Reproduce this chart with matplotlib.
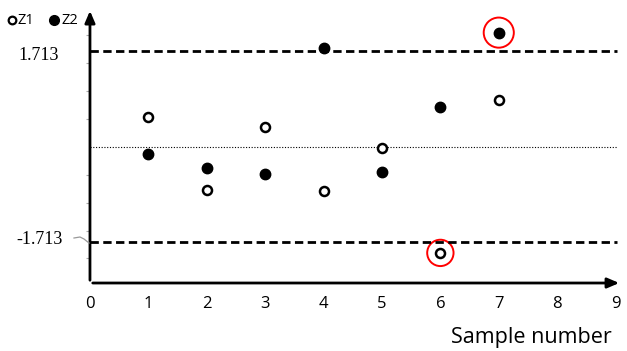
import matplotlib.pyplot as plt

samples = [1, 2, 3, 4, 5, 6, 7]
z1 = [0.54, -0.77, 0.36, -0.79, -0.02, -1.90, 0.84]
z2 = [-0.13, -0.38, -0.48, 1.78, -0.45, 0.72, 2.05]
limit = 1.713
x_ticks = [0, 1, 2, 3, 4, 5, 6, 7, 8, 9]
y_minor = [-2.0, -1.5, -1.0, -0.5, 0.5, 1.0, 1.5, 2.0]
flagged_z1 = [(6, -1.90)]
flagged_z2 = [(7, 2.05)]

fig = plt.figure(figsize=(6.27, 3.51), dpi=100)
ax = fig.add_axes([0.1435, 0.1937, 0.8485, 0.7833])
ax.set_xlim(0, 9.11)
ax.set_ylim(-2.44, 2.49)

for s in ax.spines.values():
    s.set_visible(False)

# axes with arrows
ax.annotate('', xy=(1.0, 0), xytext=(0, 0), xycoords='axes fraction',
            arrowprops=dict(arrowstyle='-|>,head_width=0.3,head_length=0.7', lw=2, color='black'))
ax.annotate('', xy=(0, 1.0), xytext=(0, 0), xycoords='axes fraction',
            arrowprops=dict(arrowstyle='-|>,head_width=0.3,head_length=0.7', lw=2, color='black'))

ax.plot([0, 9.02], [limit, limit], color='black', lw=2, linestyle=(0, (3, 1.6)))
ax.plot([0, 9.02], [-limit, -limit], color='black', lw=2, linestyle=(0, (3, 1.6)))
ax.plot([0, 9.02], [0, 0], color='black', lw=0.8, linestyle=(0, (1, 1.5)))

ax.plot(samples, z1, 'o', ms=6.5, mfc='white', mec='black', mew=1.8, linestyle='none')
ax.plot(samples, z2, 'o', ms=7.5, mfc='black', mec='black', linestyle='none')

ax.scatter([p[0] for p in flagged_z2], [p[1] for p in flagged_z2], s=470,
           facecolors='none', edgecolors='red', linewidths=1.4)
ax.scatter([p[0] for p in flagged_z1], [p[1] for p in flagged_z1], s=360,
           facecolors='none', edgecolors='red', linewidths=1.4)

ax.set_xticks(x_ticks)
ax.set_xticklabels([str(t) for t in x_ticks], fontsize=12, family='Open Sans')
ax.tick_params(axis='x', length=0, pad=9)
ax.set_yticks(y_minor)
ax.set_yticklabels([])
ax.tick_params(axis='y', length=3, color='#aaaaaa', width=0.8)

fig.text(0.03, 1 - 56 / 351, '1.713', fontsize=13, family='Liberation Serif', va='center')
fig.text(0.026, 1 - 240 / 351, '-1.713', fontsize=13, family='Liberation Serif', va='center')
fig.add_artist(plt.Line2D([74 / 627, 80 / 627, 84 / 627, 89 / 627],
                          [1 - 238 / 351, 1 - 237 / 351, 1 - 239 / 351, 1 - 243 / 351],
                          color='#999999', lw=0.9))

fig.text(0.976, 1 - 337 / 351, 'Sample number', fontsize=15.5, family='Open Sans',
         ha='right', va='center')

# legend
ly = 1 - 20 / 351
fig.add_artist(plt.Line2D([12 / 627], [ly], marker='o', ms=5.5, mfc='white', mec='black',
                          mew=1.6, linestyle='none'))
fig.text(17 / 627, ly, 'Z1', fontsize=10.5, family='Open Sans', va='center')
fig.add_artist(plt.Line2D([54 / 627], [ly], marker='o', ms=7, mfc='black', mec='black',
                          linestyle='none'))
fig.text(61 / 627, ly, 'Z2', fontsize=10.5, family='Open Sans', va='center')

fig.savefig('out.png', dpi=100)
